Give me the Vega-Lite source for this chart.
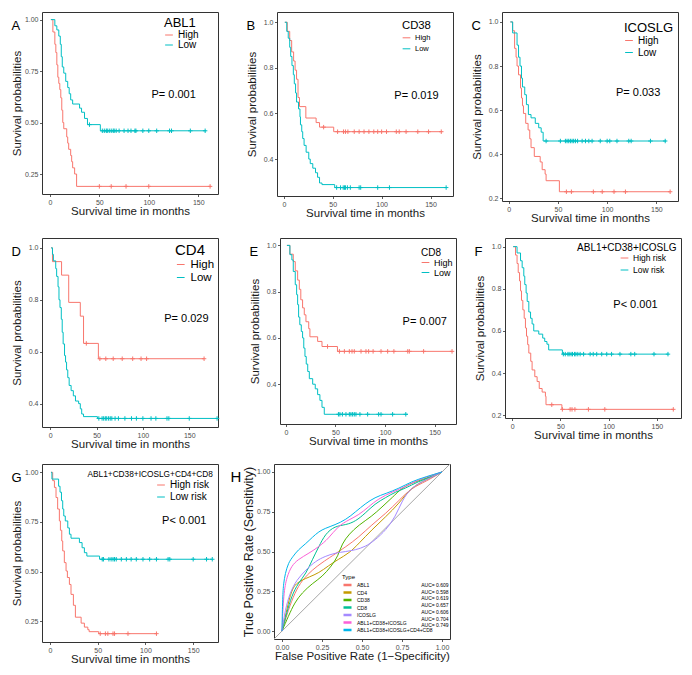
{
"$schema":"https://vega.github.io/schema/vega-lite/v6.json",
"padding":{"left":11,"top":11,"right":0,"bottom":0},
"background":"white",
"config":{
 "font":"Liberation Sans",
 "view":{"stroke":"#333333","strokeWidth":1},
 "style":{"guide-title":{"fontWeight":"normal"}},
 "axis":{"grid":false,"domain":false,"tickColor":"#333333","tickSize":2.5,"tickWidth":0.8,"labelFontSize":7,"labelColor":"#4d4d4d","labelPadding":1.5,"labelFlush":false,"titleFontWeight":"normal","titleFontSize":11.5,"titleColor":"#1a1a1a"},
 "axisY":{"minExtent":17,"maxExtent":17,"titlePadding":2.5,"titleFontWeight":"normal"},
 "axisX":{"titlePadding":0,"titleFontWeight":"normal"},
 "legend":{"symbolType":"stroke","symbolStrokeWidth":1,"symbolSize":60,"padding":0,"labelOffset":4,"titleFontWeight":"normal","titleColor":"#000000","labelColor":"#000000"},
 "title":{"fontWeight":"normal","color":"#000000"},
 "text":{"color":"#000000"}
},
"datasets":{
"Al":[
{"g":"High","t":1,"s":1},{"g":"High","t":3,"s":0.94},{"g":"High","t":5,"s":0.88},{"g":"High","t":6,"s":0.84},{"g":"High","t":7,"s":0.78},{"g":"High","t":8,"s":0.72},{"g":"High","t":9,"s":0.69},{"g":"High","t":10,"s":0.66},{"g":"High","t":11,"s":0.62},{"g":"High","t":12,"s":0.56},{"g":"High","t":13,"s":0.5},{"g":"High","t":14,"s":0.47},{"g":"High","t":17,"s":0.43},{"g":"High","t":18,"s":0.4},{"g":"High","t":19,"s":0.37},{"g":"High","t":21,"s":0.34},{"g":"High","t":22,"s":0.31},{"g":"High","t":23,"s":0.28},{"g":"High","t":25,"s":0.25},{"g":"High","t":27,"s":0.19},{"g":"High","t":163,"s":0.19},
{"g":"Low","t":1,"s":1},{"g":"Low","t":5,"s":0.97},{"g":"Low","t":7,"s":0.95},{"g":"Low","t":9,"s":0.92},{"g":"Low","t":10.5,"s":0.88},{"g":"Low","t":11.5,"s":0.82},{"g":"Low","t":12.5,"s":0.77},{"g":"Low","t":14,"s":0.74},{"g":"Low","t":16,"s":0.7},{"g":"Low","t":18,"s":0.67},{"g":"Low","t":19.5,"s":0.64},{"g":"Low","t":21,"s":0.61},{"g":"Low","t":23,"s":0.59},{"g":"Low","t":30,"s":0.57},{"g":"Low","t":32,"s":0.55},{"g":"Low","t":35,"s":0.52},{"g":"Low","t":38,"s":0.49},{"g":"Low","t":51,"s":0.46},{"g":"Low","t":158,"s":0.46}],
"Ac":[
{"g":"High","t":50,"s":0.19},{"g":"High","t":62,"s":0.19},{"g":"High","t":77,"s":0.19},{"g":"High","t":100,"s":0.19},{"g":"High","t":162,"s":0.19},
{"g":"Low","t":40,"s":0.49},{"g":"Low","t":53,"s":0.46},{"g":"Low","t":55,"s":0.46},{"g":"Low","t":57,"s":0.46},{"g":"Low","t":58,"s":0.46},{"g":"Low","t":60,"s":0.46},{"g":"Low","t":62,"s":0.46},{"g":"Low","t":64,"s":0.46},{"g":"Low","t":65,"s":0.46},{"g":"Low","t":67,"s":0.46},{"g":"Low","t":70,"s":0.46},{"g":"Low","t":75,"s":0.46},{"g":"Low","t":79,"s":0.46},{"g":"Low","t":82,"s":0.46},{"g":"Low","t":86,"s":0.46},{"g":"Low","t":87,"s":0.46},{"g":"Low","t":94,"s":0.46},{"g":"Low","t":100,"s":0.46},{"g":"Low","t":108,"s":0.46},{"g":"Low","t":121,"s":0.46},{"g":"Low","t":123,"s":0.46},{"g":"Low","t":142,"s":0.46},{"g":"Low","t":157,"s":0.46}],
"Bl":[
{"g":"High","t":1,"s":1},{"g":"High","t":3.5,"s":0.96},{"g":"High","t":6,"s":0.92},{"g":"High","t":8,"s":0.87},{"g":"High","t":10,"s":0.83},{"g":"High","t":11.5,"s":0.79},{"g":"High","t":13,"s":0.75},{"g":"High","t":14.5,"s":0.67},{"g":"High","t":16,"s":0.63},{"g":"High","t":22.5,"s":0.58},{"g":"High","t":33,"s":0.56},{"g":"High","t":36.5,"s":0.54},{"g":"High","t":51,"s":0.52},{"g":"High","t":162,"s":0.52},
{"g":"Low","t":1,"s":1},{"g":"Low","t":3,"s":0.96},{"g":"Low","t":4.5,"s":0.93},{"g":"Low","t":6,"s":0.89},{"g":"Low","t":7,"s":0.85},{"g":"Low","t":8.3,"s":0.81},{"g":"Low","t":9.7,"s":0.77},{"g":"Low","t":10.7,"s":0.73},{"g":"Low","t":12,"s":0.69},{"g":"Low","t":13,"s":0.65},{"g":"Low","t":15,"s":0.62},{"g":"Low","t":16.5,"s":0.585},{"g":"Low","t":17,"s":0.55},{"g":"Low","t":18.3,"s":0.52},{"g":"Low","t":19.3,"s":0.49},{"g":"Low","t":20.7,"s":0.46},{"g":"Low","t":22.8,"s":0.43},{"g":"Low","t":25.5,"s":0.4},{"g":"Low","t":27,"s":0.38},{"g":"Low","t":29.6,"s":0.36},{"g":"Low","t":32.4,"s":0.34},{"g":"Low","t":34.5,"s":0.32},{"g":"Low","t":36.5,"s":0.295},{"g":"Low","t":39,"s":0.288},{"g":"Low","t":52,"s":0.275},{"g":"Low","t":166,"s":0.275}],
"Bc":[
{"g":"High","t":40.7,"s":0.54},{"g":"High","t":55,"s":0.52},{"g":"High","t":61,"s":0.52},{"g":"High","t":63,"s":0.52},{"g":"High","t":65.5,"s":0.52},{"g":"High","t":72,"s":0.52},{"g":"High","t":77,"s":0.52},{"g":"High","t":82,"s":0.52},{"g":"High","t":87,"s":0.52},{"g":"High","t":92,"s":0.52},{"g":"High","t":96,"s":0.52},{"g":"High","t":100,"s":0.52},{"g":"High","t":105,"s":0.52},{"g":"High","t":115,"s":0.52},{"g":"High","t":118,"s":0.52},{"g":"High","t":125,"s":0.52},{"g":"High","t":137,"s":0.52},{"g":"High","t":148,"s":0.52},{"g":"High","t":161,"s":0.52},
{"g":"Low","t":54,"s":0.275},{"g":"Low","t":58,"s":0.275},{"g":"Low","t":60.7,"s":0.275},{"g":"Low","t":62,"s":0.275},{"g":"Low","t":63,"s":0.275},{"g":"Low","t":65,"s":0.275},{"g":"Low","t":68,"s":0.275},{"g":"Low","t":77,"s":0.275},{"g":"Low","t":78.6,"s":0.275},{"g":"Low","t":96,"s":0.275},{"g":"Low","t":108,"s":0.275},{"g":"Low","t":166,"s":0.275}],
"Cl":[
{"g":"High","t":1.7,"s":1},{"g":"High","t":4,"s":0.96},{"g":"High","t":6,"s":0.88},{"g":"High","t":7.5,"s":0.84},{"g":"High","t":8.5,"s":0.8},{"g":"High","t":10,"s":0.76},{"g":"High","t":12,"s":0.7},{"g":"High","t":13,"s":0.655},{"g":"High","t":14,"s":0.62},{"g":"High","t":15,"s":0.585},{"g":"High","t":17.3,"s":0.54},{"g":"High","t":19.7,"s":0.51},{"g":"High","t":21.4,"s":0.47},{"g":"High","t":22.7,"s":0.43},{"g":"High","t":26,"s":0.39},{"g":"High","t":32,"s":0.365},{"g":"High","t":34,"s":0.33},{"g":"High","t":37,"s":0.31},{"g":"High","t":38,"s":0.28},{"g":"High","t":51.5,"s":0.23},{"g":"High","t":164,"s":0.23},
{"g":"Low","t":1.7,"s":1},{"g":"Low","t":4,"s":0.95},{"g":"Low","t":8.5,"s":0.895},{"g":"Low","t":10,"s":0.84},{"g":"Low","t":11.5,"s":0.8},{"g":"Low","t":13,"s":0.745},{"g":"Low","t":14,"s":0.705},{"g":"Low","t":16.3,"s":0.67},{"g":"Low","t":18,"s":0.625},{"g":"Low","t":20,"s":0.58},{"g":"Low","t":22.7,"s":0.565},{"g":"Low","t":27,"s":0.54},{"g":"Low","t":30.5,"s":0.52},{"g":"Low","t":33,"s":0.5},{"g":"Low","t":35,"s":0.46},{"g":"Low","t":160,"s":0.46}],
"Cc":[
{"g":"High","t":58.6,"s":0.23},{"g":"High","t":63.7,"s":0.23},{"g":"High","t":86,"s":0.23},{"g":"High","t":95,"s":0.23},{"g":"High","t":107,"s":0.23},{"g":"High","t":118.6,"s":0.23},{"g":"High","t":164,"s":0.23},
{"g":"Low","t":38,"s":0.46},{"g":"Low","t":52.5,"s":0.46},{"g":"Low","t":57.6,"s":0.46},{"g":"Low","t":59.3,"s":0.46},{"g":"Low","t":61,"s":0.46},{"g":"Low","t":62.7,"s":0.46},{"g":"Low","t":64.4,"s":0.46},{"g":"Low","t":66,"s":0.46},{"g":"Low","t":67.8,"s":0.46},{"g":"Low","t":70,"s":0.46},{"g":"Low","t":74.6,"s":0.46},{"g":"Low","t":78,"s":0.46},{"g":"Low","t":81.4,"s":0.46},{"g":"Low","t":84.7,"s":0.46},{"g":"Low","t":93,"s":0.46},{"g":"Low","t":100,"s":0.46},{"g":"Low","t":102.7,"s":0.46},{"g":"Low","t":110,"s":0.46},{"g":"Low","t":122,"s":0.46},{"g":"Low","t":124.4,"s":0.46},{"g":"Low","t":144,"s":0.46},{"g":"Low","t":159,"s":0.46}],
"Dl":[
{"g":"High","t":1,"s":1},{"g":"High","t":2.5,"s":0.947},{"g":"High","t":12.3,"s":0.895},{"g":"High","t":20,"s":0.79},{"g":"High","t":32.5,"s":0.737},{"g":"High","t":36,"s":0.632},{"g":"High","t":52,"s":0.573},{"g":"High","t":166,"s":0.573},
{"g":"Low","t":1,"s":1},{"g":"Low","t":2.5,"s":0.975},{"g":"Low","t":3.5,"s":0.95},{"g":"Low","t":6,"s":0.92},{"g":"Low","t":7,"s":0.89},{"g":"Low","t":8.5,"s":0.85},{"g":"Low","t":9.5,"s":0.8},{"g":"Low","t":10.6,"s":0.77},{"g":"Low","t":12,"s":0.725},{"g":"Low","t":13,"s":0.675},{"g":"Low","t":14,"s":0.63},{"g":"Low","t":15.5,"s":0.585},{"g":"Low","t":16.6,"s":0.56},{"g":"Low","t":17.7,"s":0.53},{"g":"Low","t":19,"s":0.5},{"g":"Low","t":20.5,"s":0.47},{"g":"Low","t":22.6,"s":0.45},{"g":"Low","t":25,"s":0.43},{"g":"Low","t":27.3,"s":0.41},{"g":"Low","t":30.7,"s":0.4},{"g":"Low","t":32.5,"s":0.38},{"g":"Low","t":34,"s":0.36},{"g":"Low","t":36,"s":0.35},{"g":"Low","t":51,"s":0.343},{"g":"Low","t":180,"s":0.343}],
"Dc":[
{"g":"High","t":39,"s":0.632},{"g":"High","t":53.6,"s":0.573},{"g":"High","t":60,"s":0.573},{"g":"High","t":68,"s":0.573},{"g":"High","t":77.7,"s":0.573},{"g":"High","t":89,"s":0.573},{"g":"High","t":98,"s":0.573},{"g":"High","t":104,"s":0.573},{"g":"High","t":166,"s":0.573},
{"g":"Low","t":52.5,"s":0.343},{"g":"Low","t":56,"s":0.343},{"g":"Low","t":57.7,"s":0.343},{"g":"Low","t":59.5,"s":0.343},{"g":"Low","t":61,"s":0.343},{"g":"Low","t":63,"s":0.343},{"g":"Low","t":64.8,"s":0.343},{"g":"Low","t":66.5,"s":0.343},{"g":"Low","t":70,"s":0.343},{"g":"Low","t":73.6,"s":0.343},{"g":"Low","t":80.6,"s":0.343},{"g":"Low","t":87.7,"s":0.343},{"g":"Low","t":93,"s":0.343},{"g":"Low","t":100,"s":0.343},{"g":"Low","t":108.8,"s":0.343},{"g":"Low","t":114,"s":0.343},{"g":"Low","t":126,"s":0.343},{"g":"Low","t":128,"s":0.343},{"g":"Low","t":150,"s":0.343},{"g":"Low","t":180,"s":0.343}],
"El":[
{"g":"High","t":1,"s":1},{"g":"High","t":4,"s":0.962},{"g":"High","t":7.4,"s":0.93},{"g":"High","t":9.4,"s":0.89},{"g":"High","t":11.8,"s":0.85},{"g":"High","t":13.5,"s":0.81},{"g":"High","t":15,"s":0.765},{"g":"High","t":16.8,"s":0.73},{"g":"High","t":18.5,"s":0.7},{"g":"High","t":20.2,"s":0.67},{"g":"High","t":23,"s":0.64},{"g":"High","t":24.2,"s":0.605},{"g":"High","t":32,"s":0.585},{"g":"High","t":36.4,"s":0.563},{"g":"High","t":52,"s":0.542},{"g":"High","t":168,"s":0.542},
{"g":"Low","t":1,"s":1},{"g":"Low","t":4,"s":0.96},{"g":"Low","t":6,"s":0.937},{"g":"Low","t":7.4,"s":0.887},{"g":"Low","t":9.4,"s":0.83},{"g":"Low","t":10.8,"s":0.787},{"g":"Low","t":11.8,"s":0.744},{"g":"Low","t":12.8,"s":0.69},{"g":"Low","t":14,"s":0.657},{"g":"Low","t":15.5,"s":0.628},{"g":"Low","t":16.8,"s":0.6},{"g":"Low","t":18,"s":0.556},{"g":"Low","t":19.2,"s":0.52},{"g":"Low","t":20.5,"s":0.487},{"g":"Low","t":22,"s":0.455},{"g":"Low","t":23.6,"s":0.424},{"g":"Low","t":27,"s":0.4},{"g":"Low","t":29.6,"s":0.38},{"g":"Low","t":32,"s":0.355},{"g":"Low","t":34.3,"s":0.33},{"g":"Low","t":36.4,"s":0.3},{"g":"Low","t":38.7,"s":0.27},{"g":"Low","t":123,"s":0.27}],
"Ec":[
{"g":"High","t":42,"s":0.563},{"g":"High","t":54,"s":0.542},{"g":"High","t":59,"s":0.542},{"g":"High","t":64,"s":0.542},{"g":"High","t":66.7,"s":0.542},{"g":"High","t":69,"s":0.542},{"g":"High","t":75.8,"s":0.542},{"g":"High","t":80.8,"s":0.542},{"g":"High","t":83.5,"s":0.542},{"g":"High","t":88,"s":0.542},{"g":"High","t":96,"s":0.542},{"g":"High","t":102.7,"s":0.542},{"g":"High","t":109,"s":0.542},{"g":"High","t":123,"s":0.542},{"g":"High","t":124.6,"s":0.542},{"g":"High","t":139,"s":0.542},{"g":"High","t":167.7,"s":0.542},
{"g":"Low","t":53,"s":0.27},{"g":"Low","t":54.5,"s":0.27},{"g":"Low","t":57,"s":0.27},{"g":"Low","t":60.6,"s":0.27},{"g":"Low","t":64,"s":0.27},{"g":"Low","t":65.6,"s":0.27},{"g":"Low","t":67.3,"s":0.27},{"g":"Low","t":69,"s":0.27},{"g":"Low","t":70.7,"s":0.27},{"g":"Low","t":74.7,"s":0.27},{"g":"Low","t":82.5,"s":0.27},{"g":"Low","t":93.6,"s":0.27},{"g":"Low","t":96,"s":0.27},{"g":"Low","t":107.7,"s":0.27},{"g":"Low","t":121,"s":0.27}],
"Fl":[
{"g":"High risk","t":1,"s":1},{"g":"High risk","t":3.4,"s":0.96},{"g":"High risk","t":5,"s":0.92},{"g":"High risk","t":6.2,"s":0.877},{"g":"High risk","t":7.6,"s":0.837},{"g":"High risk","t":8.6,"s":0.79},{"g":"High risk","t":9.6,"s":0.745},{"g":"High risk","t":11,"s":0.7},{"g":"High risk","t":12.4,"s":0.66},{"g":"High risk","t":13.7,"s":0.614},{"g":"High risk","t":14.8,"s":0.575},{"g":"High risk","t":16,"s":0.535},{"g":"High risk","t":17.2,"s":0.495},{"g":"High risk","t":19.2,"s":0.456},{"g":"High risk","t":20.6,"s":0.415},{"g":"High risk","t":23.4,"s":0.383},{"g":"High risk","t":25.8,"s":0.36},{"g":"High risk","t":28,"s":0.327},{"g":"High risk","t":31,"s":0.31},{"g":"High risk","t":34.4,"s":0.29},{"g":"High risk","t":35,"s":0.25},{"g":"High risk","t":51.5,"s":0.228},{"g":"High risk","t":167.7,"s":0.228},
{"g":"Low risk","t":1,"s":1},{"g":"Low risk","t":5,"s":0.97},{"g":"Low risk","t":8.6,"s":0.933},{"g":"Low risk","t":10.3,"s":0.9},{"g":"Low risk","t":12,"s":0.86},{"g":"Low risk","t":13,"s":0.82},{"g":"Low risk","t":14.4,"s":0.78},{"g":"Low risk","t":15.5,"s":0.74},{"g":"Low risk","t":17.2,"s":0.69},{"g":"Low risk","t":19,"s":0.66},{"g":"Low risk","t":20.6,"s":0.633},{"g":"Low risk","t":22.3,"s":0.6},{"g":"Low risk","t":27.5,"s":0.585},{"g":"Low risk","t":31.6,"s":0.566},{"g":"Low risk","t":33.7,"s":0.55},{"g":"Low risk","t":36,"s":0.537},{"g":"Low risk","t":37.8,"s":0.51},{"g":"Low risk","t":52,"s":0.49},{"g":"Low risk","t":162,"s":0.49}],
"Fc":[
{"g":"High risk","t":41,"s":0.25},{"g":"High risk","t":52,"s":0.228},{"g":"High risk","t":60,"s":0.228},{"g":"High risk","t":62,"s":0.228},{"g":"High risk","t":65,"s":0.228},{"g":"High risk","t":79,"s":0.228},{"g":"High risk","t":96,"s":0.228},{"g":"High risk","t":167,"s":0.228},
{"g":"Low risk","t":53,"s":0.49},{"g":"Low risk","t":55,"s":0.49},{"g":"Low risk","t":57.7,"s":0.49},{"g":"Low risk","t":59,"s":0.49},{"g":"Low risk","t":61,"s":0.49},{"g":"Low risk","t":62.5,"s":0.49},{"g":"Low risk","t":64.6,"s":0.49},{"g":"Low risk","t":66,"s":0.49},{"g":"Low risk","t":68,"s":0.49},{"g":"Low risk","t":70.4,"s":0.49},{"g":"Low risk","t":74,"s":0.49},{"g":"Low risk","t":80.8,"s":0.49},{"g":"Low risk","t":84,"s":0.49},{"g":"Low risk","t":87.6,"s":0.49},{"g":"Low risk","t":92.8,"s":0.49},{"g":"Low risk","t":98,"s":0.49},{"g":"Low risk","t":103,"s":0.49},{"g":"Low risk","t":111.7,"s":0.49},{"g":"Low risk","t":123,"s":0.49},{"g":"Low risk","t":127,"s":0.49},{"g":"Low risk","t":147,"s":0.49},{"g":"Low risk","t":161.5,"s":0.49}],
"Gl":[
{"g":"High risk","t":1,"s":1},{"g":"High risk","t":2.8,"s":0.958},{"g":"High risk","t":4.6,"s":0.924},{"g":"High risk","t":6.3,"s":0.873},{"g":"High risk","t":8,"s":0.815},{"g":"High risk","t":9.8,"s":0.755},{"g":"High risk","t":10.9,"s":0.708},{"g":"High risk","t":12.3,"s":0.654},{"g":"High risk","t":13.3,"s":0.604},{"g":"High risk","t":15,"s":0.545},{"g":"High risk","t":16.8,"s":0.503},{"g":"High risk","t":18.2,"s":0.47},{"g":"High risk","t":20.3,"s":0.435},{"g":"High risk","t":22,"s":0.385},{"g":"High risk","t":24.5,"s":0.33},{"g":"High risk","t":26.6,"s":0.27},{"g":"High risk","t":32.6,"s":0.24},{"g":"High risk","t":36,"s":0.22},{"g":"High risk","t":39.6,"s":0.207},{"g":"High risk","t":41,"s":0.197},{"g":"High risk","t":51,"s":0.187},{"g":"High risk","t":112,"s":0.187},
{"g":"Low risk","t":1,"s":1},{"g":"Low risk","t":2,"s":0.966},{"g":"Low risk","t":9,"s":0.93},{"g":"Low risk","t":10.5,"s":0.9},{"g":"Low risk","t":12,"s":0.857},{"g":"Low risk","t":13.3,"s":0.815},{"g":"Low risk","t":14.4,"s":0.78},{"g":"Low risk","t":16,"s":0.755},{"g":"Low risk","t":18.6,"s":0.72},{"g":"Low risk","t":20.3,"s":0.688},{"g":"Low risk","t":22,"s":0.668},{"g":"Low risk","t":30.8,"s":0.646},{"g":"Low risk","t":33.6,"s":0.62},{"g":"Low risk","t":36,"s":0.595},{"g":"Low risk","t":38.6,"s":0.578},{"g":"Low risk","t":51.9,"s":0.562},{"g":"Low risk","t":170,"s":0.562}],
"Gc":[
{"g":"High risk","t":52.6,"s":0.187},{"g":"High risk","t":58,"s":0.187},{"g":"High risk","t":60.6,"s":0.187},{"g":"High risk","t":66,"s":0.187},{"g":"High risk","t":67.6,"s":0.187},{"g":"High risk","t":81.7,"s":0.187},{"g":"High risk","t":111.5,"s":0.187},
{"g":"Low risk","t":54.7,"s":0.562},{"g":"Low risk","t":56,"s":0.562},{"g":"Low risk","t":61.7,"s":0.562},{"g":"Low risk","t":64,"s":0.562},{"g":"Low risk","t":66,"s":0.562},{"g":"Low risk","t":67.6,"s":0.562},{"g":"Low risk","t":69.4,"s":0.562},{"g":"Low risk","t":74.7,"s":0.562},{"g":"Low risk","t":80,"s":0.562},{"g":"Low risk","t":85,"s":0.562},{"g":"Low risk","t":90.4,"s":0.562},{"g":"Low risk","t":97.4,"s":0.562},{"g":"Low risk","t":104.4,"s":0.562},{"g":"Low risk","t":111.5,"s":0.562},{"g":"Low risk","t":123.7,"s":0.562},{"g":"Low risk","t":125.5,"s":0.562},{"g":"Low risk","t":150,"s":0.562},{"g":"Low risk","t":164,"s":0.562},{"g":"Low risk","t":170,"s":0.562}],
"roc":[
{"k":"ABL1","x":0,"y":0},{"k":"ABL1","x":0.04,"y":0.135},{"k":"ABL1","x":0.08,"y":0.24},{"k":"ABL1","x":0.125,"y":0.32},{"k":"ABL1","x":0.19,"y":0.385},{"k":"ABL1","x":0.25,"y":0.43},{"k":"ABL1","x":0.31,"y":0.47},{"k":"ABL1","x":0.4,"y":0.53},{"k":"ABL1","x":0.48,"y":0.59},{"k":"ABL1","x":0.56,"y":0.667},{"k":"ABL1","x":0.65,"y":0.74},{"k":"ABL1","x":0.73,"y":0.82},{"k":"ABL1","x":0.81,"y":0.9},{"k":"ABL1","x":0.9,"y":0.94},{"k":"ABL1","x":1,"y":1},
{"k":"CD4","x":0,"y":0},{"k":"CD4","x":0.03,"y":0.135},{"k":"CD4","x":0.06,"y":0.26},{"k":"CD4","x":0.09,"y":0.3},{"k":"CD4","x":0.125,"y":0.32},{"k":"CD4","x":0.17,"y":0.34},{"k":"CD4","x":0.23,"y":0.365},{"k":"CD4","x":0.29,"y":0.41},{"k":"CD4","x":0.35,"y":0.45},{"k":"CD4","x":0.42,"y":0.49},{"k":"CD4","x":0.48,"y":0.55},{"k":"CD4","x":0.56,"y":0.635},{"k":"CD4","x":0.65,"y":0.72},{"k":"CD4","x":0.73,"y":0.8},{"k":"CD4","x":0.81,"y":0.906},{"k":"CD4","x":0.9,"y":0.95},{"k":"CD4","x":1,"y":1},
{"k":"CD38","x":0,"y":0},{"k":"CD38","x":0.04,"y":0.094},{"k":"CD38","x":0.08,"y":0.18},{"k":"CD38","x":0.125,"y":0.24},{"k":"CD38","x":0.19,"y":0.3},{"k":"CD38","x":0.25,"y":0.34},{"k":"CD38","x":0.31,"y":0.41},{"k":"CD38","x":0.35,"y":0.47},{"k":"CD38","x":0.375,"y":0.55},{"k":"CD38","x":0.42,"y":0.61},{"k":"CD38","x":0.48,"y":0.667},{"k":"CD38","x":0.56,"y":0.72},{"k":"CD38","x":0.625,"y":0.78},{"k":"CD38","x":0.69,"y":0.84},{"k":"CD38","x":0.75,"y":0.9},{"k":"CD38","x":0.81,"y":0.93},{"k":"CD38","x":0.9,"y":0.96},{"k":"CD38","x":1,"y":1},
{"k":"CD8","x":0,"y":0},{"k":"CD8","x":0.03,"y":0.115},{"k":"CD8","x":0.06,"y":0.22},{"k":"CD8","x":0.1,"y":0.3},{"k":"CD8","x":0.15,"y":0.36},{"k":"CD8","x":0.19,"y":0.45},{"k":"CD8","x":0.23,"y":0.53},{"k":"CD8","x":0.27,"y":0.61},{"k":"CD8","x":0.33,"y":0.66},{"k":"CD8","x":0.4,"y":0.667},{"k":"CD8","x":0.46,"y":0.69},{"k":"CD8","x":0.52,"y":0.74},{"k":"CD8","x":0.58,"y":0.8},{"k":"CD8","x":0.65,"y":0.84},{"k":"CD8","x":0.71,"y":0.875},{"k":"CD8","x":0.77,"y":0.896},{"k":"CD8","x":0.85,"y":0.94},{"k":"CD8","x":0.94,"y":0.97},{"k":"CD8","x":1,"y":1},
{"k":"ICOSLG","x":0,"y":0},{"k":"ICOSLG","x":0.02,"y":0.135},{"k":"ICOSLG","x":0.05,"y":0.24},{"k":"ICOSLG","x":0.09,"y":0.32},{"k":"ICOSLG","x":0.15,"y":0.385},{"k":"ICOSLG","x":0.21,"y":0.44},{"k":"ICOSLG","x":0.27,"y":0.47},{"k":"ICOSLG","x":0.33,"y":0.49},{"k":"ICOSLG","x":0.4,"y":0.5},{"k":"ICOSLG","x":0.46,"y":0.51},{"k":"ICOSLG","x":0.52,"y":0.53},{"k":"ICOSLG","x":0.58,"y":0.57},{"k":"ICOSLG","x":0.65,"y":0.635},{"k":"ICOSLG","x":0.71,"y":0.72},{"k":"ICOSLG","x":0.75,"y":0.82},{"k":"ICOSLG","x":0.81,"y":0.906},{"k":"ICOSLG","x":0.9,"y":0.95},{"k":"ICOSLG","x":1,"y":1},
{"k":"ABL1+CD38+ICOSLG","x":0,"y":0},{"k":"ABL1+CD38+ICOSLG","x":0.01,"y":0.24},{"k":"ABL1+CD38+ICOSLG","x":0.03,"y":0.34},{"k":"ABL1+CD38+ICOSLG","x":0.06,"y":0.41},{"k":"ABL1+CD38+ICOSLG","x":0.1,"y":0.45},{"k":"ABL1+CD38+ICOSLG","x":0.17,"y":0.49},{"k":"ABL1+CD38+ICOSLG","x":0.23,"y":0.53},{"k":"ABL1+CD38+ICOSLG","x":0.29,"y":0.58},{"k":"ABL1+CD38+ICOSLG","x":0.35,"y":0.66},{"k":"ABL1+CD38+ICOSLG","x":0.42,"y":0.7},{"k":"ABL1+CD38+ICOSLG","x":0.48,"y":0.73},{"k":"ABL1+CD38+ICOSLG","x":0.54,"y":0.78},{"k":"ABL1+CD38+ICOSLG","x":0.6,"y":0.83},{"k":"ABL1+CD38+ICOSLG","x":0.69,"y":0.875},{"k":"ABL1+CD38+ICOSLG","x":0.77,"y":0.906},{"k":"ABL1+CD38+ICOSLG","x":0.85,"y":0.95},{"k":"ABL1+CD38+ICOSLG","x":0.94,"y":0.98},{"k":"ABL1+CD38+ICOSLG","x":1,"y":1},
{"k":"ABL1+CD38+ICOSLG+CD4+CD8","x":0,"y":0},{"k":"ABL1+CD38+ICOSLG+CD4+CD8","x":0.004,"y":0.22},{"k":"ABL1+CD38+ICOSLG+CD4+CD8","x":0.01,"y":0.3},{"k":"ABL1+CD38+ICOSLG+CD4+CD8","x":0.02,"y":0.36},{"k":"ABL1+CD38+ICOSLG+CD4+CD8","x":0.04,"y":0.43},{"k":"ABL1+CD38+ICOSLG+CD4+CD8","x":0.07,"y":0.47},{"k":"ABL1+CD38+ICOSLG+CD4+CD8","x":0.1,"y":0.51},{"k":"ABL1+CD38+ICOSLG+CD4+CD8","x":0.15,"y":0.55},{"k":"ABL1+CD38+ICOSLG+CD4+CD8","x":0.19,"y":0.59},{"k":"ABL1+CD38+ICOSLG+CD4+CD8","x":0.23,"y":0.625},{"k":"ABL1+CD38+ICOSLG+CD4+CD8","x":0.27,"y":0.646},{"k":"ABL1+CD38+ICOSLG+CD4+CD8","x":0.33,"y":0.667},{"k":"ABL1+CD38+ICOSLG+CD4+CD8","x":0.4,"y":0.7},{"k":"ABL1+CD38+ICOSLG+CD4+CD8","x":0.46,"y":0.75},{"k":"ABL1+CD38+ICOSLG+CD4+CD8","x":0.52,"y":0.8},{"k":"ABL1+CD38+ICOSLG+CD4+CD8","x":0.58,"y":0.84},{"k":"ABL1+CD38+ICOSLG+CD4+CD8","x":0.65,"y":0.865},{"k":"ABL1+CD38+ICOSLG+CD4+CD8","x":0.73,"y":0.896},{"k":"ABL1+CD38+ICOSLG+CD4+CD8","x":0.81,"y":0.94},{"k":"ABL1+CD38+ICOSLG+CD4+CD8","x":0.9,"y":0.97},{"k":"ABL1+CD38+ICOSLG+CD4+CD8","x":1,"y":1}],
"auc":[
{"k":"ABL1","a":"AUC= 0.609"},{"k":"CD4","a":"AUC= 0.598"},{"k":"CD38","a":"AUC= 0.619"},{"k":"CD8","a":"AUC= 0.657"},{"k":"ICOSLG","a":"AUC= 0.606"},{"k":"ABL1+CD38+ICOSLG","a":"AUC= 0.704"},{"k":"ABL1+CD38+ICOSLG+CD4+CD8","a":"AUC= 0.749"}]
},
"resolve":{"scale":{"color":"independent"},"legend":{"color":"independent"}},
"spacing":13,
"vconcat":[
{"spacing":17,"resolve":{"scale":{"color":"independent"},"legend":{"color":"independent"}},
 "hconcat":[
 {"spacing":27,"resolve":{"scale":{"color":"independent"},"legend":{"color":"independent"}},
  "hconcat":[
  {"width":176,"height":182,"title":{"text":"A","anchor":"start","frame":"bounds","offset":-21,"fontSize":13},
   "layer":[
    {"data":{"name":"Al"},"mark":{"type":"line","interpolate":"step-after","strokeWidth":1},
     "encoding":{"x":{"field":"t","type":"quantitative","scale":{"domain":[-8,170],"nice":false,"zero":false},"axis":{"values":[0,50,100,150],"title":"Survival time in months"}},
      "y":{"field":"s","type":"quantitative","scale":{"domain":[0.153,1.037],"nice":false,"zero":false},"axis":{"values":[0.25,0.5,0.75,1],"format":".2f","title":"Survival probabilities"}},
      "color":{"field":"g","type":"nominal","title":"ABL1","scale":{"domain":["High","Low"],"range":["#F8766D","#00BFC4"]},"legend":{"orient":"none","legendX":122,"legendY":5,"titleFontSize":13,"labelFontSize":10,"titlePadding":0,"rowPadding":0,"clipHeight":10}}}},
    {"data":{"name":"Ac"},"mark":{"type":"point","shape":"M0,-1L0,1M-1,0L1,0","size":20,"strokeWidth":1,"filled":false,"opacity":1},
     "encoding":{"x":{"field":"t","type":"quantitative"},"y":{"field":"s","type":"quantitative"},"color":{"field":"g","type":"nominal","legend":null}}},
    {"data":{"values":[{"p":"P= 0.001"}]},"mark":{"type":"text","align":"left","baseline":"middle","fontSize":11},
     "encoding":{"x":{"datum":102.7},"y":{"datum":0.632},"text":{"field":"p"}}}]},
  {"width":176,"height":184,"title":{"text":"B","anchor":"start","frame":"bounds","offset":-21,"fontSize":13},
   "layer":[
    {"data":{"name":"Bl"},"mark":{"type":"line","interpolate":"step-after","strokeWidth":1},
     "encoding":{"x":{"field":"t","type":"quantitative","scale":{"domain":[-7,173],"nice":false,"zero":false},"axis":{"values":[0,50,100,150],"title":"Survival time in months"}},
      "y":{"field":"s","type":"quantitative","scale":{"domain":[0.238,1.045],"nice":false,"zero":false},"axis":{"values":[0.4,0.6,0.8,1],"format":".1f","title":"Survival probabilities"}},
      "color":{"field":"g","type":"nominal","title":"CD38","scale":{"domain":["High","Low"],"range":["#F8766D","#00BFC4"]},"legend":{"orient":"none","legendX":125,"legendY":8,"titleFontSize":11.3,"labelFontSize":7.5,"titlePadding":2.5,"rowPadding":3,"clipHeight":8}}}},
    {"data":{"name":"Bc"},"mark":{"type":"point","shape":"M0,-1L0,1M-1,0L1,0","size":20,"strokeWidth":1,"filled":false,"opacity":1},
     "encoding":{"x":{"field":"t","type":"quantitative"},"y":{"field":"s","type":"quantitative"},"color":{"field":"g","type":"nominal","legend":null}}},
    {"data":{"values":[{"p":"P= 0.019"}]},"mark":{"type":"text","align":"left","baseline":"middle","fontSize":11},
     "encoding":{"x":{"datum":113},"y":{"datum":0.675},"text":{"field":"p"}}}]}
  ]},
  {"width":176,"height":189,"title":{"text":"C","anchor":"start","frame":"bounds","offset":-21,"fontSize":13},
   "layer":[
    {"data":{"name":"Cl"},"mark":{"type":"line","interpolate":"step-after","strokeWidth":1},
     "encoding":{"x":{"field":"t","type":"quantitative","scale":{"domain":[-6.8,172],"nice":false,"zero":false},"axis":{"values":[0,50,100,150],"title":"Survival time in months"}},
      "y":{"field":"s","type":"quantitative","scale":{"domain":[0.188,1.045],"nice":false,"zero":false},"axis":{"values":[0.2,0.4,0.6,0.8,1],"format":".1f","title":"Survival probabilities"}},
      "color":{"field":"g","type":"nominal","title":"ICOSLG","scale":{"domain":["High","Low"],"range":["#F8766D","#00BFC4"]},"legend":{"orient":"none","legendX":122,"legendY":10,"titleFontSize":13,"labelFontSize":10,"titlePadding":0.5,"rowPadding":2,"clipHeight":10}}}},
    {"data":{"name":"Cc"},"mark":{"type":"point","shape":"M0,-1L0,1M-1,0L1,0","size":20,"strokeWidth":1,"filled":false,"opacity":1},
     "encoding":{"x":{"field":"t","type":"quantitative"},"y":{"field":"s","type":"quantitative"},"color":{"field":"g","type":"nominal","legend":null}}},
    {"data":{"values":[{"p":"P= 0.033"}]},"mark":{"type":"text","align":"left","baseline":"middle","fontSize":11},
     "encoding":{"x":{"datum":109},"y":{"datum":0.677},"text":{"field":"p"}}}]}
 ]},
{"spacing":17,"resolve":{"scale":{"color":"independent"},"legend":{"color":"independent"}},
 "hconcat":[
 {"spacing":27,"resolve":{"scale":{"color":"independent"},"legend":{"color":"independent"}},
  "hconcat":[
  {"width":176,"height":189,"title":{"text":"D","anchor":"start","frame":"bounds","offset":-21,"fontSize":13},
   "layer":[
    {"data":{"name":"Dl"},"mark":{"type":"line","interpolate":"step-after","strokeWidth":1},
     "encoding":{"x":{"field":"t","type":"quantitative","scale":{"domain":[-8.8,181],"nice":false,"zero":false},"axis":{"values":[0,50,100,150],"title":"Survival time in months"}},
      "y":{"field":"s","type":"quantitative","scale":{"domain":[0.31,1.038],"nice":false,"zero":false},"axis":{"values":[0.4,0.6,0.8,1],"format":".1f","title":"Survival probabilities"}},
      "color":{"field":"g","type":"nominal","title":"CD4","scale":{"domain":["High","Low"],"range":["#F8766D","#00BFC4"]},"legend":{"orient":"none","legendX":133,"legendY":5,"titleFontSize":15,"labelFontSize":11.5,"titlePadding":0.5,"rowPadding":1,"clipHeight":12}}}},
    {"data":{"name":"Dc"},"mark":{"type":"point","shape":"M0,-1L0,1M-1,0L1,0","size":20,"strokeWidth":1,"filled":false,"opacity":1},
     "encoding":{"x":{"field":"t","type":"quantitative"},"y":{"field":"s","type":"quantitative"},"color":{"field":"g","type":"nominal","legend":null}}},
    {"data":{"values":[{"p":"P= 0.029"}]},"mark":{"type":"text","align":"left","baseline":"middle","fontSize":11},
     "encoding":{"x":{"datum":123},"y":{"datum":0.726},"text":{"field":"p"}}}]},
  {"width":176,"height":186,"title":{"text":"E","anchor":"start","frame":"bounds","offset":-21,"fontSize":13},
   "layer":[
    {"data":{"name":"El"},"mark":{"type":"line","interpolate":"step-after","strokeWidth":1},
     "encoding":{"x":{"field":"t","type":"quantitative","scale":{"domain":[-6,171.7],"nice":false,"zero":false},"axis":{"values":[0,50,100,150],"title":"Survival time in months"}},
      "y":{"field":"s","type":"quantitative","scale":{"domain":[0.228,1.032],"nice":false,"zero":false},"axis":{"values":[0.4,0.6,0.8,1],"format":".1f","title":"Survival probabilities"}},
      "color":{"field":"g","type":"nominal","title":"CD8","scale":{"domain":["High","Low"],"range":["#F8766D","#00BFC4"]},"legend":{"orient":"none","legendX":141,"legendY":10,"titleFontSize":10,"labelFontSize":9,"titlePadding":0,"rowPadding":0,"clipHeight":9}}}},
    {"data":{"name":"Ec"},"mark":{"type":"point","shape":"M0,-1L0,1M-1,0L1,0","size":20,"strokeWidth":1,"filled":false,"opacity":1},
     "encoding":{"x":{"field":"t","type":"quantitative"},"y":{"field":"s","type":"quantitative"},"color":{"field":"g","type":"nominal","legend":null}}},
    {"data":{"values":[{"p":"P= 0.007"}]},"mark":{"type":"text","align":"left","baseline":"middle","fontSize":11},
     "encoding":{"x":{"datum":117.8},"y":{"datum":0.671},"text":{"field":"p"}}}]}
  ]},
  {"width":176,"height":180,"title":{"text":"F","anchor":"start","frame":"bounds","offset":-21,"fontSize":13},
   "layer":[
    {"data":{"name":"Fl"},"mark":{"type":"line","interpolate":"step-after","strokeWidth":1},
     "encoding":{"x":{"field":"t","type":"quantitative","scale":{"domain":[-7.5,175],"nice":false,"zero":false},"axis":{"values":[0,50,100,150],"title":"Survival time in months"}},
      "y":{"field":"s","type":"quantitative","scale":{"domain":[0.187,1.041],"nice":false,"zero":false},"axis":{"values":[0.2,0.4,0.6,0.8,1],"format":".1f","title":"Survival probabilities"}},
      "color":{"field":"g","type":"nominal","title":null,"scale":{"domain":["High risk","Low risk"],"range":["#F8766D","#00BFC4"]},"legend":{"orient":"none","legendX":115,"legendY":15.5,"labelFontSize":8.5,"rowPadding":3,"clipHeight":9}}}},
    {"data":{"name":"Fc"},"mark":{"type":"point","shape":"M0,-1L0,1M-1,0L1,0","size":20,"strokeWidth":1,"filled":false,"opacity":1},
     "encoding":{"x":{"field":"t","type":"quantitative"},"y":{"field":"s","type":"quantitative"},"color":{"field":"g","type":"nominal","legend":null}}},
    {"data":{"values":[{"p":"P< 0.001"}]},"mark":{"type":"text","align":"left","baseline":"middle","fontSize":11},
     "encoding":{"x":{"datum":104.8},"y":{"datum":0.722},"text":{"field":"p"}}},
    {"data":{"values":[{"p":"ABL1+CD38+ICOSLG"}]},"mark":{"type":"text","align":"right","baseline":"middle","fontSize":10},
     "encoding":{"x":{"datum":170.4},"y":{"datum":0.994},"text":{"field":"p"}}}]}
 ]},
{"spacing":11,"resolve":{"scale":{"color":"independent"},"legend":{"color":"independent"}},
 "hconcat":[
  {"width":176,"height":178,"title":{"text":"G","anchor":"start","frame":"bounds","offset":-21,"fontSize":13},
   "layer":[
    {"data":{"name":"Gl"},"mark":{"type":"line","interpolate":"step-after","strokeWidth":1},
     "encoding":{"x":{"field":"t","type":"quantitative","scale":{"domain":[-8.4,176],"nice":false,"zero":false},"axis":{"values":[0,50,100,150],"title":"Survival time in months"}},
      "y":{"field":"s","type":"quantitative","scale":{"domain":[0.145,1.042],"nice":false,"zero":false},"axis":{"values":[0.25,0.5,0.75,1],"format":".2f","title":"Survival probabilities"}},
      "color":{"field":"g","type":"nominal","title":null,"scale":{"domain":["High risk","Low risk"],"range":["#F8766D","#00BFC4"]},"legend":{"orient":"none","legendX":114,"legendY":16,"labelFontSize":10,"rowPadding":2,"clipHeight":10}}}},
    {"data":{"name":"Gc"},"mark":{"type":"point","shape":"M0,-1L0,1M-1,0L1,0","size":20,"strokeWidth":1,"filled":false,"opacity":1},
     "encoding":{"x":{"field":"t","type":"quantitative"},"y":{"field":"s","type":"quantitative"},"color":{"field":"g","type":"nominal","legend":null}}},
    {"data":{"values":[{"p":"P< 0.001"}]},"mark":{"type":"text","align":"left","baseline":"middle","fontSize":11},
     "encoding":{"x":{"datum":117.4},"y":{"datum":0.755},"text":{"field":"p"}}},
    {"data":{"values":[{"p":"ABL1+CD38+ICOSLG+CD4+CD8"}]},"mark":{"type":"text","align":"right","baseline":"middle","fontSize":8.3},
     "encoding":{"x":{"datum":170.7},"y":{"datum":0.988},"text":{"field":"p"}}}]},
  {"width":176,"height":175,"title":{"text":"H","anchor":"start","frame":"bounds","offset":-21,"fontSize":15,"dx":-12},
   "resolve":{"scale":{"y":"independent"},"axis":{"y":"independent"}},
   "layer":[
    {"layer":[
     {"data":{"values":[{"d":1}]},"mark":{"type":"rule","color":"#A6A6A6","strokeWidth":1},
      "encoding":{"x":{"datum":-0.05,"type":"quantitative"},"y":{"datum":-0.05,"type":"quantitative"},"x2":{"datum":1.05},"y2":{"datum":1.05}}},
     {"data":{"name":"roc"},"mark":{"type":"line","interpolate":"basis","strokeWidth":1},
      "encoding":{"x":{"field":"x","type":"quantitative","scale":{"domain":[-0.05,1.05],"nice":false,"zero":false},"axis":{"values":[0,0.25,0.5,0.75,1],"format":".2f","title":"False Positive Rate (1\u2212Specificity)","titleFontSize":11.5}},
       "y":{"field":"y","type":"quantitative","scale":{"domain":[-0.05,1.05],"nice":false,"zero":false},"axis":{"values":[0,0.25,0.5,0.75,1],"format":".2f","title":"True Positive Rate (Sensitivity)","titleFontSize":12.5,"titlePadding":1.5}},
       "color":{"field":"k","type":"nominal","title":"Type","scale":{"domain":["ABL1","CD4","CD38","CD8","ICOSLG","ABL1+CD38+ICOSLG","ABL1+CD38+ICOSLG+CD4+CD8"],"range":["#F8766D","#C49A00","#53B400","#00C094","#A58AFF","#FB61D7","#00B6EB"]},"legend":{"orient":"none","legendX":68,"legendY":110,"titleFontSize":6,"labelFontSize":5,"symbolStrokeWidth":2.5,"symbolSize":64,"rowPadding":0.5,"titlePadding":2,"labelOffset":4,"labelLimit":200,"clipHeight":6.2}}}}]},
    {"data":{"name":"auc"},"mark":{"type":"text","align":"left","baseline":"middle","fontSize":5},
     "encoding":{"x":{"datum":0.87,"type":"quantitative"},"y":{"field":"k","type":"nominal","scale":{"type":"point","domain":["ABL1","CD4","CD38","CD8","ICOSLG","ABL1+CD38+ICOSLG","ABL1+CD38+ICOSLG+CD4+CD8"],"range":[121,161.2],"padding":0},"axis":null},"text":{"field":"a"}}}]}
 ]}
]
}
